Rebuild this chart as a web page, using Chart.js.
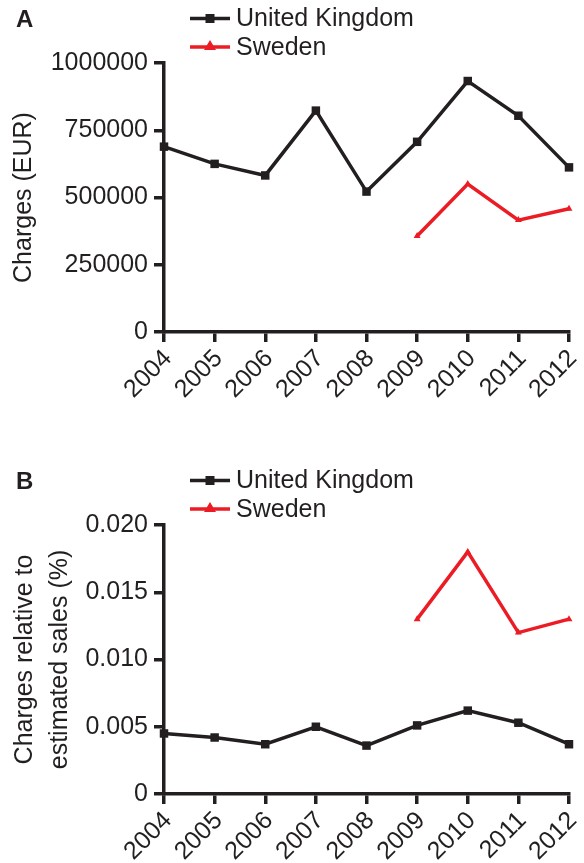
<!DOCTYPE html>
<html lang="en">
<head>
  <meta charset="UTF-8" />
  <meta name="viewport" content="width=device-width, initial-scale=1.0" />
  <title>Charges</title>
  <script src="https://cdn.jsdelivr.net/npm/chart.js"></script>
  <style>
    html, body { margin: 0; padding: 0; background: #fff; }
    .panel { position: relative; width: 584px; }
    #panelA { height: 462px; }
    #panelB { height: 401px; }
  </style>
</head>
<body>
  <div class="panel" id="panelA"><canvas id="chartA"></canvas></div>
  <div class="panel" id="panelB"><canvas id="chartB"></canvas></div>

  <script>
    const years = ['2004', '2005', '2006', '2007', '2008', '2009', '2010', '2011', '2012'];

    // Panel A: charges in EUR
    const ukCharges = [689000, 625000, 582000, 823000, 522000, 707000, 933000, 804000, 612000];
    const seCharges = [null, null, null, null, null, 357000, 550000, 416000, 458000];

    // Panel B: charges relative to estimated sales (%)
    const ukRelative = [0.0045, 0.0042, 0.0037, 0.0050, 0.0036, 0.0051, 0.0062, 0.0053, 0.0037];
    const seRelative = [null, null, null, null, null, 0.0130, 0.0180, 0.0120, 0.0130];

    const INK = '#231f20';
    const RED = '#ec1c24';
    const FONT = '"Liberation Sans", Arial, sans-serif';

    Chart.defaults.font.family = FONT;
    Chart.defaults.color = INK;

    // panel letter + stacked legend above the plot
    function panelLegend(letter) {
      return {
        id: 'panelLegend',
        afterDraw(chart) {
          const ctx = chart.ctx;
          ctx.save();
          ctx.textBaseline = 'middle';
          ctx.textAlign = 'left';
          ctx.fillStyle = INK;
          ctx.font = 'bold 24px ' + FONT;
          ctx.fillText(letter, 16, 20);
          ctx.font = '25px ' + FONT;
          chart.data.datasets.forEach((ds, i) => {
            const y = 18.5 + i * 28.5;
            ctx.strokeStyle = ds.borderColor;
            ctx.lineWidth = 3.5;
            ctx.beginPath();
            ctx.moveTo(190, y);
            ctx.lineTo(230, y);
            ctx.stroke();
            ctx.fillStyle = ds.borderColor;
            if (ds.pointStyle === 'rect') {
              ctx.fillRect(205.5, y - 4.5, 9, 9);
            } else {
              ctx.beginPath();
              ctx.moveTo(210, y - 7);
              ctx.lineTo(216, y + 3);
              ctx.lineTo(204, y + 3);
              ctx.closePath();
              ctx.fill();
            }
            ctx.fillStyle = INK;
            ctx.fillText(ds.label, 236, y + 1);
          });
          ctx.restore();
        }
      };
    }

    function series(label, data, color, style, radius) {
      return {
        label: label,
        data: data,
        borderColor: color,
        backgroundColor: color,
        borderWidth: 3.5,
        pointStyle: style,
        pointRadius: radius,
        pointHoverRadius: radius,
        pointBorderWidth: 0,
        tension: 0,
        spanGaps: false,
        clip: false
      };
    }

    const axisGrid = { display: true, drawOnChartArea: false, drawTicks: true, tickLength: 10, color: INK, lineWidth: 3.5 };
    const axisBorder = { display: true, color: INK, width: 3.5 };

    function makeOptions(yTitle, titleLineHeight, titlePad, yMax, yStep, fmt, padBottom) {
      return {
        responsive: true,
        maintainAspectRatio: false,
        animation: false,
        layout: { padding: { top: 63, right: 15, bottom: padBottom, left: 0 } },
        plugins: { legend: { display: false }, tooltip: { enabled: false } },
        scales: {
          x: {
            type: 'category',
            offset: false,
            grid: axisGrid,
            border: axisBorder,
            ticks: { font: { size: 25 }, color: INK, minRotation: 45, maxRotation: 45, padding: 2, labelOffset: 4, autoSkip: false },
            afterFit(s) { s.height = 69; s.paddingLeft = 0; s.paddingRight = 0; }
          },
          y: {
            min: 0,
            max: yMax,
            grid: axisGrid,
            border: axisBorder,
            ticks: { stepSize: yStep, font: { size: 25 }, color: INK, padding: 6, callback: fmt },
            title: {
              display: true,
              text: yTitle,
              color: INK,
              font: { size: 25, lineHeight: titleLineHeight },
              padding: { top: titlePad, bottom: 0 }
            },
            afterFit(s) { s.width = 164; s.paddingTop = 0; s.paddingBottom = 0; }
          }
        }
      };
    }

    new Chart(document.getElementById('chartA'), {
      type: 'line',
      data: {
        labels: years,
        datasets: [
          series('United Kingdom', ukCharges, INK, 'rect', 6),
          series('Sweden', seCharges, RED, 'triangle', 4)
        ]
      },
      options: makeOptions('Charges (EUR)', 1.2, 9, 1000000, 250000, v => String(v), 61),
      plugins: [panelLegend('A')]
    });

    new Chart(document.getElementById('chartB'), {
      type: 'line',
      data: {
        labels: years,
        datasets: [
          series('United Kingdom', ukRelative, INK, 'rect', 6),
          series('Sweden', seRelative, RED, 'triangle', 4)
        ]
      },
      options: makeOptions(['Charges relative to', 'estimated sales (%)'], 1.4, 8, 0.02, 0.005,
        v => (v === 0 ? '0' : v.toFixed(3)), 0),
      plugins: [panelLegend('B')]
    });
  </script>
</body>
</html>
